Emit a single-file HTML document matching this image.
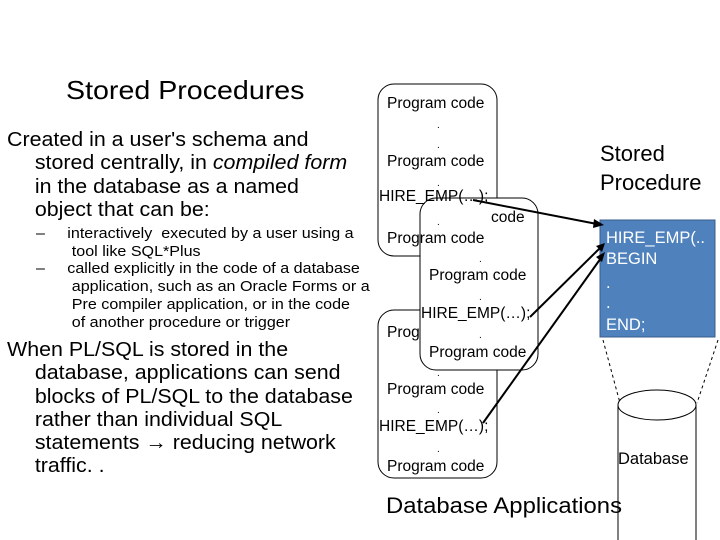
<!DOCTYPE html>
<html><head><style>
body{margin:0;width:720px;height:540px;background:#fff;position:relative;overflow:hidden;font-family:"Liberation Sans",sans-serif;}
.t{position:absolute;white-space:nowrap;color:#000;transform-origin:0 0;}
.l{font-size:20px;line-height:23.3px;transform:scaleX(1.07);}
.s{font-size:14.5px;line-height:17.7px;transform:scaleX(1.11);}
.i{padding-left:26px;}
</style></head><body>
<div class="t" style="left:66px;top:75px;font-size:26px;transform:scaleX(1.1);">Stored Procedures</div>
<div class="t l" style="left:7px;top:129px;">Created in a user's schema and<br><span class="i">stored centrally, in <i>compiled form</i></span><br><span class="i">in the database as a named</span><br><span class="i">object that can be:</span></div>
<div class="t s" style="left:36px;top:226px;">–&nbsp;&nbsp;&nbsp;&nbsp;&nbsp;interactively &nbsp;executed by a user using a<br>&nbsp;&nbsp;&nbsp;&nbsp;&nbsp;&nbsp;&nbsp;&nbsp;tool like SQL*Plus<br>–&nbsp;&nbsp;&nbsp;&nbsp;&nbsp;called explicitly in the code of a database<br>&nbsp;&nbsp;&nbsp;&nbsp;&nbsp;&nbsp;&nbsp;&nbsp;application, such as an Oracle Forms or a<br>&nbsp;&nbsp;&nbsp;&nbsp;&nbsp;&nbsp;&nbsp;&nbsp;Pre compiler application, or in the code<br>&nbsp;&nbsp;&nbsp;&nbsp;&nbsp;&nbsp;&nbsp;&nbsp;of another procedure or trigger</div>
<div class="t l" style="left:7px;top:339px;transform:scaleX(1.07);">When PL/SQL is stored in the<br><span class="i">database, applications can send</span><br><span class="i">blocks of PL/SQL to the database</span><br><span class="i">rather than individual SQL</span><br><span class="i">statements → reducing network</span><br><span class="i">traffic. .</span></div>

<svg width="720" height="540" style="position:absolute;left:0;top:0" font-family="Liberation Sans, sans-serif">
<rect x="378" y="84" width="119" height="172" rx="16" fill="#fff" stroke="#000"/>
<rect x="378" y="310" width="119" height="168" rx="16" fill="#fff" stroke="#000"/>
<rect x="420" y="198" width="118" height="172" rx="16" fill="#fff" stroke="#000"/>
<g font-size="15.5">
<text x="387" y="108">Program code</text>
<text x="387" y="166">Program code</text>
<text x="379" y="201">HIRE_EMP(…);</text>
<text x="387" y="243">Program code</text>
<text x="491" y="222">code</text>
<text x="429" y="280">Program code</text>
<text x="421" y="318">HIRE_EMP(…);</text>
<text x="387" y="337">Prog</text>
<text x="429" y="357">Program code</text>
<text x="387" y="394">Program code</text>
<text x="379" y="431">HIRE_EMP(…);</text>
<text x="387" y="471">Program code</text>
</g>
<g font-size="10"><text x="437" y="128">.</text><text x="437" y="148">.</text><text x="437" y="186">.</text><text x="437" y="225">.</text><text x="479" y="262">.</text><text x="479" y="300">.</text><text x="479" y="338">.</text><text x="437" y="376">.</text><text x="437" y="413">.</text><text x="437" y="452">.</text></g>
<text x="600" y="161" font-size="22">Stored</text>
<text x="600" y="190" font-size="22">Procedure</text>
<rect x="600" y="220" width="115" height="117" fill="#4f81bd" stroke="#385d8a"/>
<g font-size="16.5" fill="#fff"><text x="606" y="243">HIRE_EMP(..</text><text x="606" y="264">BEGIN</text><text x="606" y="288">.</text><text x="606" y="308">.</text><text x="606" y="330">END;</text></g>
<line x1="603" y1="340" x2="620" y2="403" stroke="#000" stroke-dasharray="3,3"/>
<line x1="718" y1="340" x2="697" y2="403" stroke="#000" stroke-dasharray="3,3"/>
<path d="M618 405 V545 M696 405 V545" stroke="#000" fill="none"/>
<ellipse cx="657" cy="405" rx="39" ry="15" fill="#fff" stroke="#000"/>
<text x="618" y="464" font-size="16.5">Database</text>
<text x="386" y="513" font-size="22" textLength="236" lengthAdjust="spacingAndGlyphs">Database Applications</text>
<g stroke="#000" stroke-width="2">
<line x1="473" y1="200" x2="597" y2="224"/>
<line x1="530" y1="317" x2="600" y2="248"/>
<line x1="483" y1="423" x2="601" y2="258"/>
</g>
<g fill="#000">
<polygon points="604,225 594,219 593,228"/>
<polygon points="605,243 596,246 602,252"/>
<polygon points="605,252 596,257 602,262"/>
</g>
</svg>
</body></html>
